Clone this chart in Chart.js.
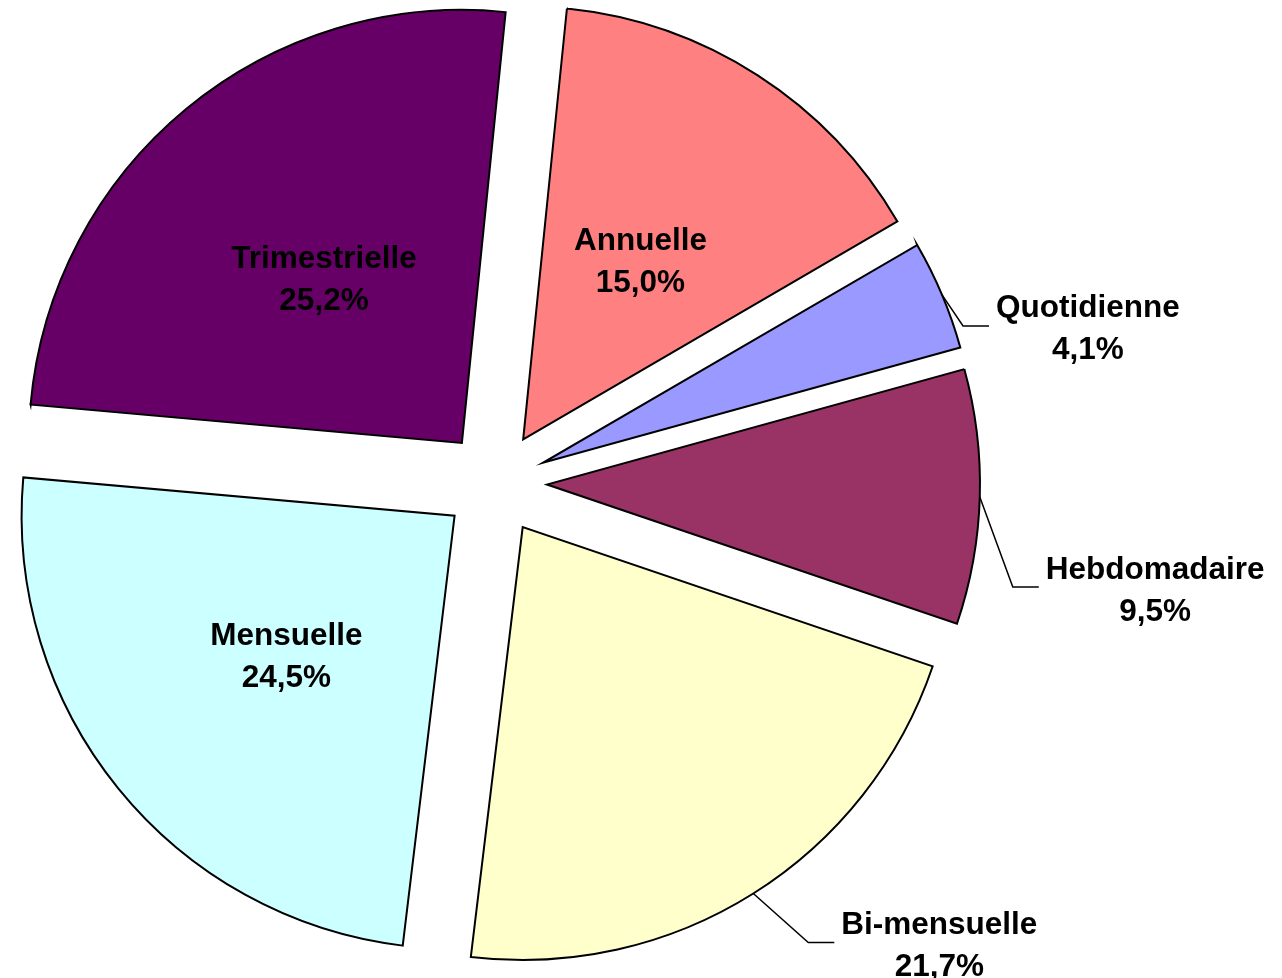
<!DOCTYPE html>
<html>
<head>
<meta charset="utf-8">
<title>Périodicité</title>
<script src="https://cdn.jsdelivr.net/npm/chart.js"></script>
<style>
html,body{margin:0;padding:0;background:#fff}
#wrap{width:1282px;height:978px}
</style>
</head>
<body>
<div id="wrap"><canvas id="chart" width="1282" height="978"></canvas></div>
<script>
// data (percent of total)
const categories = ['Annuelle', 'Quotidienne', 'Hebdomadaire', 'Bi-mensuelle', 'Mensuelle', 'Trimestrielle'];
const values = [15.0, 4.1, 9.5, 21.7, 24.5, 25.2];
const colors = ['#FF8080', '#9999FF', '#993366', '#FFFFCC', '#CCFFFF', '#660066'];

// layout bits
const EXPLODE = 52;
const FONT = 'bold 31.5px "Liberation Sans", Arial, sans-serif';
// slices whose label sits outside, with the elbow of the leader line
const leaders = {
  'Quotidienne': {dx: 21, dy: 31},
  'Hebdomadaire': {dx: 33, dy: 90},
  'Bi-mensuelle': {dx: 55, dy: 49}
};

function pct(v){
  const total = values.reduce((a,b)=>a+b,0);
  return (v/total*100).toFixed(1).replace('.', ',') + '%';
}

// push every slice out along its middle angle
const explodePlugin = {
  id: 'explode',
  afterDatasetsUpdate(chart){
    chart.getDatasetMeta(0).data.forEach(arc=>{
      const mid = (arc.startAngle + arc.endAngle)/2;
      arc.x += Math.cos(mid)*EXPLODE;
      arc.y += Math.sin(mid)*EXPLODE;
    });
  }
};

const labelPlugin = {
  id: 'sliceLabels',
  afterDatasetsDraw(chart){
    const ctx = chart.ctx;
    ctx.save();
    ctx.font = FONT;
    ctx.fillStyle = '#000';
    ctx.strokeStyle = '#000';
    ctx.lineWidth = 1.5;
    ctx.textAlign = 'center';
    ctx.textBaseline = 'alphabetic';
    chart.getDatasetMeta(0).data.forEach((arc,i)=>{
      const mid = (arc.startAngle + arc.endAngle)/2;
      const r = arc.outerRadius;
      const lines = [categories[i], pct(values[i])];
      const lead = leaders[categories[i]];
      let cx, cy;
      if(!lead){
        cx = arc.x + Math.cos(mid)*r*0.5;
        cy = arc.y + Math.sin(mid)*r*0.5 + 2;
      } else {
        const sx = arc.x + Math.cos(mid)*r, sy = arc.y + Math.sin(mid)*r;
        const ex = sx + lead.dx, ey = sy + lead.dy;
        ctx.beginPath();
        ctx.moveTo(sx, sy);
        ctx.lineTo(ex, ey);
        ctx.lineTo(ex + 26, ey);
        ctx.stroke();
        const w = Math.max(...lines.map(t=>ctx.measureText(t).width));
        cx = ex + 26 + 7 + w/2;
        cy = ey + 1;
      }
      ctx.fillText(lines[0], cx, cy - 9.5);
      ctx.fillText(lines[1], cx, cy + 32.5);
    });
    ctx.restore();
  }
};

new Chart(document.getElementById('chart'), {
  type: 'pie',
  data: {
    labels: categories,
    datasets: [{
      data: values,
      backgroundColor: colors,
      borderColor: '#000',
      borderWidth: 2,
      borderJoinStyle: 'miter'
    }]
  },
  options: {
    responsive: false,
    animation: false,
    rotation: 5.8,
    radius: 433,
    layout: {padding: {left: 0, right: 292, top: 0, bottom: 12}},
    plugins: {legend: {display: false}, tooltip: {enabled: false}}
  },
  plugins: [explodePlugin, labelPlugin]
});
</script>
</body>
</html>
